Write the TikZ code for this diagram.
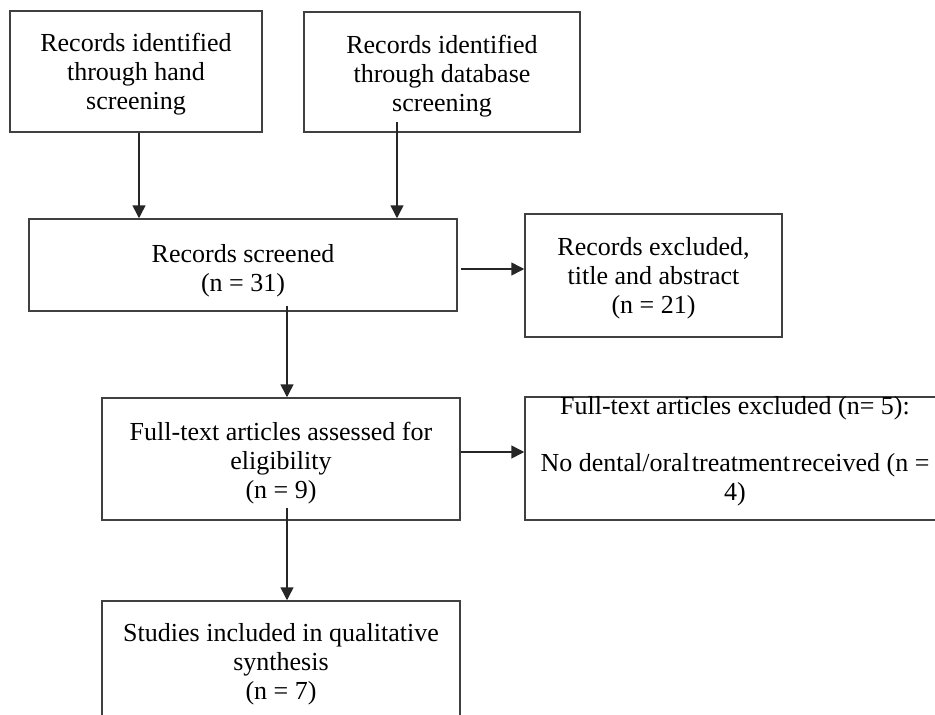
\documentclass[tikz,border=0pt]{standalone}
\usepackage{fontspec}
\setmainfont{Liberation Serif}
\usetikzlibrary{arrows.meta}
\begin{document}
\begin{tikzpicture}[x=1pt,y=-1pt,
  box/.style={draw=black!75,line width=1.5pt,inner sep=0pt},
  txt/.style={align=center,inner sep=0pt,font=\fontsize{26}{29}\selectfont},
  arr/.style={draw=black!85,line width=1.5pt,-{Triangle[width=13pt,length=13pt]}}]
\useasboundingbox (0,0) rectangle (935,715);
\node[box,minimum width=252pt,minimum height=121pt] (b1) at (136,71.5) {};
\node[txt] (t1) at ([yshift=-3pt]b1.center) {Records identified\\through hand\\screening};
\node[box,minimum width=276pt,minimum height=120pt] (b2) at (442,72) {};
\node[txt] (t2) at ([yshift=-4pt]b2.center) {Records identified\\through database\\screening};
\node[box,minimum width=428pt,minimum height=92pt] (b3) at (243,265) {};
\node[txt] (t3) at ([yshift=-6pt]b3.center) {Records screened\\(n = 31)};
\node[box,minimum width=257pt,minimum height=123pt] (b4) at (653.5,275.5) {};
\node[txt] (t4) at ([yshift=-3pt]b4.center) {Records excluded,\\title and abstract\\(n = 21)};
\node[box,minimum width=358pt,minimum height=122pt] (b5) at (281,459) {};
\node[txt] (t5) at ([yshift=-4pt]b5.center) {Full-text articles assessed for\\eligibility\\(n = 9)};
\node[box,minimum width=420pt,minimum height=123pt] (b6) at (735,458.5) {};
\node[txt] (t6) at ([yshift=7pt]b6.center) {Full-text articles excluded (n= 5):\\[28pt]No dental/oral\hspace{2pt}treatment\hspace{2pt}received (n =\\4)};
\node[box,minimum width=358pt,minimum height=124pt] (b7) at (281,663) {};
\node[txt] (t7) at ([yshift=-1pt]b7.center) {Studies included in qualitative\\synthesis\\(n = 7)};
\draw[arr] ([xshift=3pt]b1.south) -- ([xshift=3pt]b1.south |- b3.north);
\draw[arr] ([xshift=-45pt,yshift=11pt]b2.south) -- ([xshift=-45pt]b2.south |- b3.north);
\draw[arr] ([xshift=3pt,yshift=-4pt]b3.east) -- ([yshift=-4pt]b3.east -| b4.west);
\draw[arr] ([xshift=44pt,yshift=6pt]b3.south) -- ([xshift=44pt]b3.south |- b5.north);
\draw[arr] ([yshift=7pt]b5.east) -- ([yshift=7pt]b5.east -| b6.west);
\draw[arr] ([xshift=6pt,yshift=13pt]b5.south) -- ([xshift=6pt]b5.south |- b7.north);
\end{tikzpicture}
\end{document}
